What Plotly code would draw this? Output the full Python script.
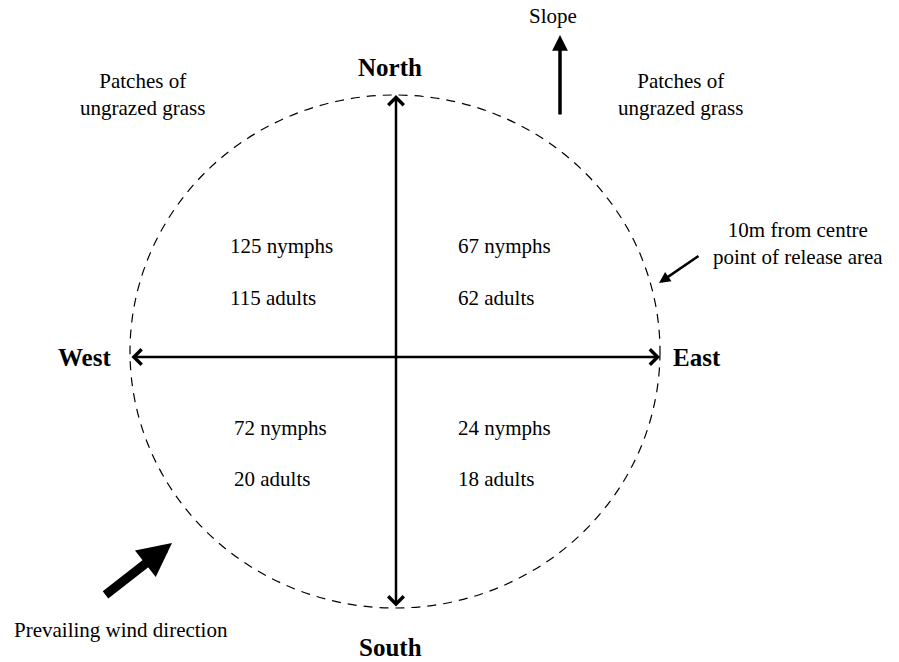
import plotly.graph_objects as go

# ── Data ─────────────────────────────────────────────────────────────────────
QUADRANTS = ["NW", "NE", "SW", "SE"]
NYMPHS    = [125, 67, 72, 24]
ADULTS    = [115, 62, 20, 18]

DIRECTIONS = ["North", "South", "West", "East"]

# ── Layout tokens (pixel canvas) ─────────────────────────────────────────────
W, H   = 899, 662
FONT   = "Liberation Serif, Times New Roman, serif"
INK    = "#000000"
TXT    = 21
BOLD   = 25

# circle bounds and cross position
CX0, CX1, CY0, CY1 = 130, 660, 95, 608
MIDX, MIDY = 396, 357

# text anchor for each quadrant (left edge, y of nymph line, y of adults line)
Q_POS = {
    "NW": (228, 246, 298),
    "NE": (456, 246, 298),
    "SW": (232, 428, 479),
    "SE": (456, 428, 479),
}
DIR_POS = {
    "North": (390, 67),
    "South": (390, 647),
    "West":  (84, 357),
    "East":  (697, 357),
}

fig = go.Figure()

# invisible trace keeps the axes alive
fig.add_trace(go.Scatter(x=[0, W], y=[0, H], mode="markers",
                         marker=dict(opacity=0), hoverinfo="skip", showlegend=False))

# dashed boundary circle
fig.add_shape(type="circle", xref="x", yref="y",
              x0=CX0, x1=CX1, y0=CY0, y1=CY1,
              line=dict(color=INK, width=1.2, dash="9px,7px"))

# quadrant counts
for q, n, a in zip(QUADRANTS, NYMPHS, ADULTS):
    x, yn, ya = Q_POS[q]
    for txt, yy in [(f"{n} nymphs", yn), (f"{a} adults", ya)]:
        fig.add_annotation(x=x, y=yy, text=txt, showarrow=False,
                           xanchor="left", yanchor="middle",
                           font=dict(family=FONT, size=TXT, color=INK))

# compass labels
for d in DIRECTIONS:
    x, y = DIR_POS[d]
    fig.add_annotation(x=x, y=y, text=f"<b>{d}</b>", showarrow=False,
                       font=dict(family=FONT, size=BOLD, color=INK))

# compass arrows (double-headed)
arrow = dict(showarrow=True, text="", xref="x", yref="y", axref="x", ayref="y",
             arrowcolor=INK, arrowwidth=2.5, arrowhead=4, startarrowhead=4,
             arrowside="end+start", arrowsize=1.2, startarrowsize=1.2,
             standoff=0, startstandoff=0)
fig.add_annotation(x=MIDX, y=CY0, ax=MIDX, ay=CY1, **arrow)
fig.add_annotation(x=CX1, y=MIDY, ax=CX0, ay=MIDY, **arrow)

# slope arrow
fig.add_annotation(x=560, y=35, ax=560, ay=116, text="", showarrow=True,
                   xref="x", yref="y", axref="x", ayref="y",
                   arrowcolor=INK, arrowwidth=3.5, arrowhead=2, arrowsize=0.9, standoff=0)
fig.add_annotation(x=553, y=16, text="Slope", showarrow=False,
                   font=dict(family=FONT, size=TXT, color=INK))

# grass patches
for x in (142, 680):
    fig.add_annotation(x=x, y=94, text="Patches of<br>ungrazed grass", showarrow=False,
                       font=dict(family=FONT, size=TXT, color=INK))

# radius note
fig.add_annotation(x=798, y=243, text="10m from centre<br>point of release area",
                   showarrow=False, font=dict(family=FONT, size=TXT, color=INK))
fig.add_annotation(x=659, y=283, ax=700, ay=255, text="", showarrow=True,
                   xref="x", yref="y", axref="x", ayref="y",
                   arrowcolor=INK, arrowwidth=2.5, arrowhead=2, arrowsize=0.9, standoff=0)

# wind arrow
fig.add_annotation(x=172, y=543, ax=104, ay=596, text="", showarrow=True,
                   xref="x", yref="y", axref="x", ayref="y",
                   arrowcolor=INK, arrowwidth=9, arrowhead=2, arrowsize=0.75, standoff=0)
fig.add_annotation(x=12, y=630, text="Prevailing wind direction", showarrow=False,
                   xanchor="left", font=dict(family=FONT, size=TXT, color=INK))

fig.update_layout(
    width=W, height=H,
    margin=dict(l=0, r=0, t=0, b=0),
    paper_bgcolor="white", plot_bgcolor="white",
    xaxis=dict(range=[0, W], visible=False, fixedrange=True),
    yaxis=dict(range=[H, 0], visible=False, fixedrange=True),
    showlegend=False,
)

fig.write_html("out.html", config=dict(displayModeBar=False),
               post_script="document.body.style.margin='0';")
